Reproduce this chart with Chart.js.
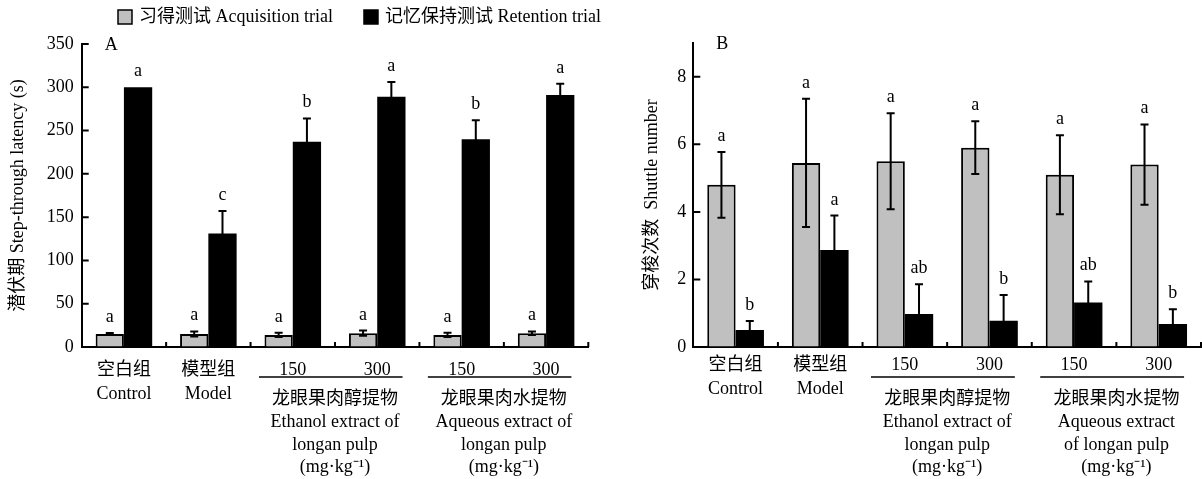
<!DOCTYPE html>
<html>
<head>
<meta charset="utf-8">
<script src="https://cdn.jsdelivr.net/npm/chart.js@4.4.1/dist/chart.umd.min.js"></script>
<style>
  html, body { margin: 0; padding: 0; background: #fff; }
  body { width: 1202px; height: 479px; position: relative; overflow: hidden; }
  .panel { position: absolute; top: 0; height: 479px; }
  #wrapA { left: 0; width: 724px; }
  #wrapB { left: 610px; width: 592px; }
</style>
</head>
<body>
<div class="panel" id="wrapA"><canvas id="chartA"></canvas></div>
<div class="panel" id="wrapB"><canvas id="chartB"></canvas></div>
<script>
'use strict';

// --- data ---
var seriesNames = ['习得测试 Acquisition trial', '记忆保持测试 Retention trial'];
var categoryLabels = [['空白组', 'Control'], ['模型组', 'Model'], ['150'], ['300'], ['150'], ['300']];

var groupEthanolA = ['龙眼果肉醇提物', 'Ethanol extract of', 'longan pulp', '(mg·kg⁻¹)'];
var groupAqueousA = ['龙眼果肉水提物', 'Aqueous extract of', 'longan pulp', '(mg·kg⁻¹)'];
var groupEthanolB = ['龙眼果肉醇提物', 'Ethanol extract of', 'longan pulp', '(mg·kg⁻¹)'];
var groupAqueousB = ['龙眼果肉水提物', 'Aqueous extract', 'of longan pulp', '(mg·kg⁻¹)'];

// panel A: step-through latency (s)
var acqA = [15, 15, 14, 16, 14, 16];
var acqErrA = [1.2, 3, 2.5, 3, 2.5, 2];
var retA = [300, 131, 237, 289, 240, 291];
var retErrA = [0, 26, 27, 17, 22, 13];
var acqLettersA = ['a', 'a', 'a', 'a', 'a', 'a'];
var retLettersA = ['a', 'c', 'b', 'a', 'b', 'a'];
var yTicksA = [0, 50, 100, 150, 200, 250, 300, 350];

// panel B: shuttle number
var acqB = [4.8, 5.45, 5.5, 5.9, 5.1, 5.4];
var acqErrB = [0.97, 1.9, 1.42, 0.78, 1.17, 1.19];
var retB = [0.5, 2.87, 0.98, 0.78, 1.32, 0.68];
var retErrB = [0.27, 1.02, 0.88, 0.76, 0.62, 0.44];
var acqLettersB = ['a', 'a', 'a', 'a', 'a', 'a'];
var retLettersB = ['b', 'a', 'ab', 'b', 'ab', 'b'];
var yTicksB = [0, 2, 4, 6, 8];

var SERIF = "'Liberation Serif', 'Noto Sans CJK SC', serif";
var GRAY = '#c0c0c0';

// --- plugins ---
var errorBars = {
  id: 'errorBars',
  afterDatasetsDraw: function (chart) {
    var ctx = chart.ctx, y = chart.scales.y;
    ctx.save();
    ctx.strokeStyle = '#000';
    ctx.lineWidth = 2;
    ctx.fillStyle = '#000';
    ctx.font = '18px ' + SERIF;
    ctx.textAlign = 'center';
    ctx.textBaseline = 'alphabetic';
    chart.data.datasets.forEach(function (ds, di) {
      var meta = chart.getDatasetMeta(di);
      meta.data.forEach(function (bar, i) {
        var m = ds.data[i], e = ds.errors[i];
        var yt = y.getPixelForValue(m + e);
        if (e > 0) {
          var yb = y.getPixelForValue(m - e);
          ctx.beginPath();
          ctx.moveTo(bar.x, yb); ctx.lineTo(bar.x, yt);
          ctx.moveTo(bar.x - 4, yt); ctx.lineTo(bar.x + 4, yt);
          ctx.moveTo(bar.x - 4, yb); ctx.lineTo(bar.x + 4, yb);
          ctx.stroke();
        }
        ctx.fillText(ds.letters[i], bar.x, yt - 11);
      });
    });
    ctx.restore();
  }
};

var innerTicks = {
  id: 'innerTicks',
  afterDraw: function (chart) {
    var ctx = chart.ctx, a = chart.chartArea, x = chart.scales.x, y = chart.scales.y;
    var step = x.getPixelForValue(1) - x.getPixelForValue(0);
    ctx.save();
    ctx.strokeStyle = '#000';
    ctx.lineWidth = 2;
    ctx.beginPath();
    y.ticks.forEach(function (t) {
      var py = y.getPixelForValue(t.value);
      ctx.moveTo(a.left, py); ctx.lineTo(a.left + 7, py);
    });
    for (var i = 0; i < x.ticks.length; i++) {
      var px = x.getPixelForValue(i) + step / 2;
      ctx.moveTo(px, a.bottom); ctx.lineTo(px, a.bottom - 5);
    }
    ctx.stroke();
    ctx.restore();
  }
};

var groupLabels = {
  id: 'groupLabels',
  afterDraw: function (chart, args, opts) {
    var ctx = chart.ctx, a = chart.chartArea, x = chart.scales.x;
    var step = x.getPixelForValue(1) - x.getPixelForValue(0);
    ctx.save();
    ctx.strokeStyle = '#000';
    ctx.lineWidth = 1.5;
    ctx.fillStyle = '#000';
    ctx.font = '18px ' + SERIF;
    ctx.textAlign = 'center';
    ctx.textBaseline = 'middle';
    (opts.groups || []).forEach(function (g) {
      var c1 = x.getPixelForValue(g.from), c2 = x.getPixelForValue(g.to);
      var ly = a.bottom + 30;
      ctx.beginPath();
      ctx.moveTo(c1 - 0.4 * step, ly); ctx.lineTo(c2 + 0.3 * step, ly);
      ctx.stroke();
      g.lines.forEach(function (t, k) {
        ctx.fillText(t, (c1 + c2) / 2, a.bottom + 52.5 + k * 22.7);
      });
    });
    ctx.restore();
  }
};

var panelTag = {
  id: 'panelTag',
  afterDraw: function (chart, args, opts) {
    var ctx = chart.ctx, a = chart.chartArea;
    ctx.save();
    ctx.fillStyle = '#000';
    ctx.font = '18px ' + SERIF;
    ctx.textAlign = 'left';
    ctx.textBaseline = 'middle';
    ctx.fillText(opts.text, a.left + 23, a.top + 1);
    ctx.restore();
  }
};

var legendRow = {
  id: 'legendRow',
  afterDraw: function (chart, args, opts) {
    if (!opts.show) return;
    var ctx = chart.ctx, x = opts.x;
    ctx.save();
    ctx.font = '18px ' + SERIF;
    ctx.textAlign = 'left';
    ctx.textBaseline = 'middle';
    chart.data.datasets.forEach(function (ds) {
      ctx.fillStyle = ds.backgroundColor;
      ctx.fillRect(x, opts.y - 7, 14, 14);
      ctx.strokeStyle = '#000';
      ctx.lineWidth = 1.5;
      ctx.strokeRect(x, opts.y - 7, 14, 14);
      ctx.fillStyle = '#000';
      ctx.fillText(ds.label, x + 21, opts.y);
      x += 21 + ctx.measureText(ds.label).width + 31;
    });
    ctx.restore();
  }
};

function makeChart(id, o) {
  return new Chart(document.getElementById(id), {
    type: 'bar',
    data: {
      labels: categoryLabels,
      datasets: [{
        label: seriesNames[0],
        data: o.acq,
        errors: o.acqErr,
        letters: o.acqLetters,
        backgroundColor: GRAY,
        borderColor: '#000',
        borderWidth: 2,
        categoryPercentage: 0.67,
        barPercentage: 1.0,
      }, {
        label: seriesNames[1],
        data: o.ret,
        errors: o.retErr,
        letters: o.retLetters,
        backgroundColor: '#000',
        borderColor: '#000',
        borderWidth: 0,
        categoryPercentage: 0.67,
        barPercentage: 1.0,
      }]
    },
    options: {
      responsive: true,
      maintainAspectRatio: false,
      animation: false,
      layout: { padding: { top: o.padTop, right: o.padRight, bottom: 0, left: 0 } },
      plugins: {
        legend: { display: false },
        tooltip: { enabled: false },
        groupLabels: { groups: o.groups },
        panelTag: { text: o.tag },
        legendRow: { show: !!o.legend, x: 118, y: 17 },
      },
      scales: {
        x: {
          grid: { drawOnChartArea: false, drawTicks: false },
          border: { display: true, color: '#000', width: 2 },
          ticks: {
            color: '#000',
            padding: o.xPad,
            maxRotation: 0,
            autoSkip: false,
            font: { family: SERIF, size: 18, lineHeight: 1.3 },
          },
          afterFit: function (axis) { axis.height = 132; },
        },
        y: {
          min: 0,
          max: o.yMax,
          grid: { drawOnChartArea: false, drawTicks: false },
          border: { display: true, color: '#000', width: 2 },
          ticks: {
            color: '#000',
            padding: o.yPad,
            font: { family: SERIF, size: 18 },
          },
          afterBuildTicks: function (axis) {
            axis.ticks = o.yTicks.map(function (v) { return { value: v }; });
          },
          afterFit: function (axis) { axis.width = o.yWidth; },
          title: {
            display: true,
            text: o.yTitle,
            color: '#000',
            padding: { top: o.titlePad, bottom: 0 },
            font: { family: SERIF, size: 18 },
          },
        },
      },
    },
    plugins: [errorBars, innerTicks, groupLabels, panelTag, legendRow],
  });
}

makeChart('chartA', {
  acq: acqA, acqErr: acqErrA, acqLetters: acqLettersA,
  ret: retA, retErr: retErrA, retLetters: retLettersA,
  yMax: 350, yTicks: yTicksA,
  yTitle: '潜伏期 Step-through latency (s)',
  tag: 'A', legend: true,
  groups: [{ from: 2, to: 3, lines: groupEthanolA }, { from: 4, to: 5, lines: groupAqueousA }],
  padTop: 44, padRight: 135.7, yWidth: 81.7, yPad: 8, xPad: 12, titlePad: 7,
});

makeChart('chartB', {
  acq: acqB, acqErr: acqErrB, acqLetters: acqLettersB,
  ret: retB, retErr: retErrB, retLetters: retLettersB,
  yMax: 9, yTicks: yTicksB,
  yTitle: '穿梭次数  Shuttle number',
  tag: 'B', legend: false,
  groups: [{ from: 2, to: 3, lines: groupEthanolB }, { from: 4, to: 5, lines: groupAqueousB }],
  padTop: 43, padRight: 1, yWidth: 83.3, yPad: 7, xPad: 7, titlePad: 31,
});
</script>
</body>
</html>
